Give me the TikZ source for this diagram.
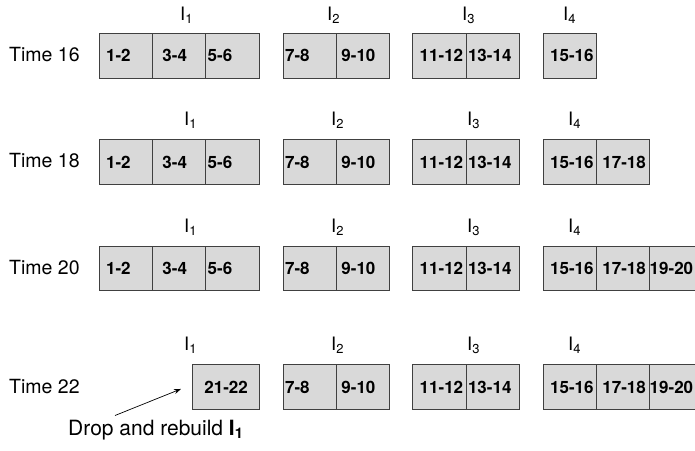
\documentclass[tikz,border=0pt]{standalone}
\usepackage{fontspec}
\setmainfont{TeX Gyre Heros}
\usetikzlibrary{arrows.meta,positioning,calc}
\definecolor{cellgray}{RGB}{217,217,217}

\begin{document}
\begin{tikzpicture}[
  x=1pt, y=-1pt,
  cell/.style={draw=black!75, fill=cellgray, line width=0.8pt, minimum height=44.5pt,
               text width=53.3pt, inner sep=0pt, align=left, anchor=north west,
               font=\fontsize{17}{17}\selectfont\bfseries},
  timelbl/.style={anchor=west, inner sep=0pt, font=\fontsize{19.5}{21}\selectfont},
  idx/.style={anchor=base west, inner sep=0pt, font=\fontsize{18.5}{20}\selectfont},
  arrow/.style={-{Stealth[length=7pt,width=5pt]}, line width=0.7pt}
]
\useasboundingbox (0,0) rectangle (695,450);

% Time 16
\node[timelbl] (t1) at (9,55) {Time 16};
\foreach \k/\x in {1/180,2/327,3/462,4/563}
  \node[idx] (l1\k) at (\x,20) {I\textsubscript{\k}};
\foreach \n/\x/\p/\t in {1/98.7/7/1-2, 2/152/10/3-4, 3/205.3/2/5-6, 4/282.7/2/7-8,
                         5/336/5/9-10, 6/412.3/7/11-12, 7/465.6/2/13-14, 8/542.7/7/15-16}
  \node[cell] (r1c\n) at (\x,33) {\hspace*{\p pt}\t};

% Time 18
\node[timelbl] (t2) at (9,161) {Time 18};
\foreach \k/\x in {1/184,2/331,3/467,4/568}
  \node[idx] (l2\k) at (\x,125) {I\textsubscript{\k}};
\foreach \n/\x/\p/\t in {1/98.7/7/1-2, 2/152/10/3-4, 3/205.3/2/5-6, 4/282.7/2/7-8,
                         5/336/5/9-10, 6/412.3/7/11-12, 7/465.6/2/13-14, 8/542.7/7/15-16,
                         9/596/6/17-18}
  \node[cell] (r2c\n) at (\x,139.3) {\hspace*{\p pt}\t};

% Time 20
\node[timelbl] (t3) at (9,268) {Time 20};
\foreach \k/\x in {1/184,2/331,3/467,4/568}
  \node[idx] (l3\k) at (\x,232) {I\textsubscript{\k}};
\foreach \n/\x/\p/\t in {1/98.7/7/1-2, 2/152/10/3-4, 3/205.3/2/5-6, 4/282.7/2/7-8,
                         5/336/5/9-10, 6/412.3/7/11-12, 7/465.6/2/13-14, 8/542.7/7/15-16,
                         9/596/6/17-18, 10/649.3/0/19-20}
  \node[cell] (r3c\n) at (\x,245.7) {\hspace*{\p pt}\t};

% Time 22
\node[timelbl] (t4) at (9,386.5) {Time 22};
\foreach \k/\x in {1/184,2/331,3/467,4/568}
  \node[idx] (l4\k) at (\x,350) {I\textsubscript{\k}};
\node[cell, text width=67pt] (r4c1) at (192,364.3) {\hspace*{12pt}21-22};
\foreach \n/\x/\p/\t in {4/282.7/2/7-8, 5/336/5/9-10, 6/412.3/7/11-12, 7/465.6/2/13-14,
                         8/542.7/7/15-16, 9/596/6/17-18, 10/649.3/0/19-20}
  \node[cell] (r4c\n) at (\x,364.3) {\hspace*{\p pt}\t};

\node[anchor=base west, inner sep=0pt, font=\fontsize{21}{23}\selectfont] (drop) at (68,435)
  {Drop and rebuild \textbf{I\textsubscript{1}}};
\draw[arrow] ([xshift=47pt,yshift=4pt]drop.north west) -- ([xshift=-11pt,yshift=-2pt]r4c1.west);
\end{tikzpicture}
\end{document}
